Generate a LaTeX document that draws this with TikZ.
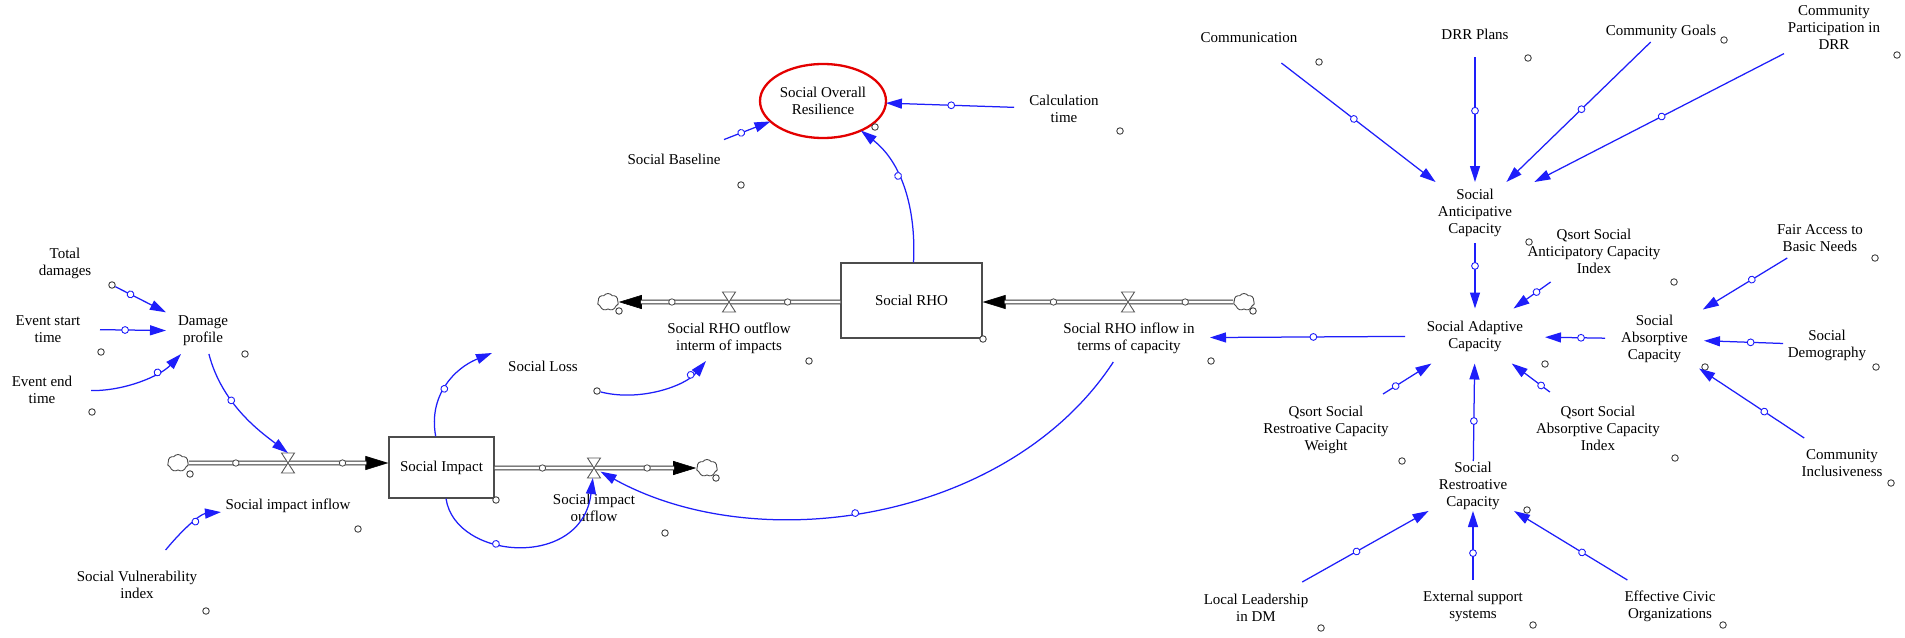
\documentclass[tikz,border=0pt]{standalone}
\usepackage{fontspec}
\setmainfont{Liberation Serif}
\usetikzlibrary{arrows.meta,shapes.geometric,shapes.symbols,decorations.markings,calc}
\definecolor{linkblue}{RGB}{30,30,250}
\definecolor{ringred}{RGB}{228,0,0}
\newcommand\varfnt{\fontsize{15pt}{17pt}\selectfont}

\begin{document}
\begin{tikzpicture}[x=1pt,y=-1pt,
  var/.style={align=center, font=\varfnt, inner sep=0pt, outer sep=0pt},
  sz/.style 2 args={minimum width=#1pt, minimum height=#2pt},
  stock/.style={draw=black!70, line width=1.3pt, fill=white, font=\varfnt, inner sep=0pt},
  handle/.style={circle, draw=black!75, fill=white, line width=0.9pt, inner sep=0pt, minimum size=6.5pt},
  puff/.style={cloud, cloud puffs=7, cloud puff arc=110, aspect=1.25, draw=black!70, fill=white, line width=0.9pt, minimum width=21pt, minimum height=17pt, inner sep=0pt},
  valvebox/.style={minimum width=13pt, minimum height=20pt, inner sep=0pt, outer sep=0pt},
  valveline/.style={draw=black!65, fill=white, line width=0.9pt, line join=miter},
  pipe/.style={draw=black!80, line width=0.95pt, double=white, double distance=2.8pt},
  flowhead/.style={draw=black, line width=0.6pt, -{Triangle[length=23pt,width=14pt]}},
  pipeknob/.style={draw=black!70, fill=white, line width=0.8pt},
  link/.style={draw=linkblue, line width=1.25pt, -{Triangle[length=16pt,width=10pt]}},
  knob/.style={postaction={decorate, decoration={markings, mark=at position #1 with {\draw[linkblue, fill=white, line width=0.9pt] (0,0) circle (3.4pt);}}}}
]
\fill[white] (0,0) rectangle (1905,637);
\useasboundingbox (0,0) rectangle (1905,637);

% ---------- damage inputs ----------
\node[var, sz={94}{44}] (td) at (65,263) {Total\\damages};
\node[var, sz={104}{40}] (es) at (48,329) {Event start\\time};
\node[var, sz={98}{40}] (ee) at (42,390) {Event end\\time};
\node[var, sz={74}{46}] (dp) at (203,331) {Damage\\profile};
\node[handle] (hTD) at (112,285) {};
\node[handle] (hES) at (101,352) {};
\node[handle] (hEE) at (92,412) {};
\node[handle] (hDP) at (245,354) {};

% ---------- Social Impact stock and its flows ----------
\node[stock, minimum width=105pt, minimum height=61pt] (siBox) at (441.5,467.5) {Social Impact};
\node[handle] (hSI) at (496,500) {};
\node[puff] (cl1) at (178,463) {};
\node[handle] (hC1) at (190,474) {};
\node[puff] (cl2) at (707,468) {};
\node[handle] (hC2) at (716,478) {};
\node[valvebox] (vIn) at (288,463) {};
\node[valvebox] (vOut) at (594,468) {};
\node[var, sz={134}{30}] (sii) at (288,506) {Social impact inflow};
\node[var] (sio) at (594,508) {Social impact\\outflow};
\node[handle] (hSII) at (358,529) {};
\node[handle] (hSIO) at (665,533) {};
\node[var, sz={130}{70}] (svi) at (137,585) {Social Vulnerability\\index};
\node[handle] (hSVI) at (206,611) {};
\node[var, sz={102}{26}] (sl) at (543,366) {Social Loss};
\node[handle] (hSL) at (597,391) {};

% ---------- Social RHO stock and its flows ----------
\node[stock, minimum width=141pt, minimum height=75pt] (rho) at (911.5,300.5) {Social RHO};
\node[handle] (hRHO) at (983,339) {};
\node[puff] (cl3) at (608,302) {};
\node[handle] (hC3) at (619,311) {};
\node[puff] (cl4) at (1244,302) {};
\node[handle] (hC4) at (1253,311) {};
\node[valvebox] (vRo) at (729,302) {};
\node[valvebox] (vRi) at (1128,302) {};
\node[var, sz={160}{46}] (rhoout) at (729,338) {Social RHO outflow\\interm of impacts};
\node[var, sz={162}{48}] (rhoin) at (1129,338) {Social RHO inflow in\\terms of capacity};
\node[handle] (hRO) at (809,361) {};
\node[handle] (hRI) at (1211,361) {};

% ---------- overall resilience ----------
\node[var, ellipse, draw=ringred, line width=2.3pt, minimum width=126pt, minimum height=74pt] (sor) at (823,101) {Social Overall\\Resilience};
\node[handle] (hSOR) at (875,127) {};
\node[var, sz={100}{40}] (calc) at (1064,109) {Calculation\\time};
\node[handle] (hCalc) at (1120,131) {};
\node[var, sz={100}{52}] (sb) at (674,159) {Social Baseline};
\node[handle] (hSB) at (741,185) {};

% ---------- capacity cluster ----------
\node[var, sz={100}{50}] (comm) at (1249,38) {Communication};
\node[var, sz={80}{46}] (drr) at (1475,34) {DRR Plans};
\node[var, sz={110}{20}] (cg) at (1661,32) {Community Goals};
\node[var, sz={100}{56}] (cpd) at (1834,28) {Community\\Participation in\\DRR};
\node[var, sz={120}{61}] (sac) at (1475,212.5) {Social\\Anticipative\\Capacity};
\node[var, sz={140}{62}] (qsa) at (1594,251) {Qsort Social\\Anticipatory Capacity\\Index};
\node[var, sz={140}{55}] (sadapt) at (1475,336) {Social Adaptive\\Capacity};
\node[var, sz={99}{59}] (sabs) at (1654.5,339) {Social\\Absorptive\\Capacity};
\node[var, sz={90}{40}] (fa) at (1820,238) {Fair Access to\\Basic Needs};
\node[var, sz={88}{40}] (demo) at (1827,345) {Social\\Demography};
\node[var, sz={90}{50}] (incl) at (1842,463) {Community\\Inclusiveness};
\node[var, sz={130}{72}] (qsr) at (1326,430) {Qsort Social\\Restroative Capacity\\Weight};
\node[var, sz={130}{72}] (qsabs) at (1598,428) {Qsort Social\\Absorptive Capacity\\Index};
\node[var, sz={110}{50}] (srest) at (1473,486) {Social\\Restroative\\Capacity};
\node[var, sz={110}{52}] (ll) at (1256,608) {Local Leadership\\in DM};
\node[var, sz={110}{52}] (ext) at (1473,606) {External support\\systems};
\node[var, sz={100}{52}] (eco) at (1670,606) {Effective Civic\\Organizations};

\node[handle] (hComm) at (1319,62) {};
\node[handle] (hDRR) at (1528,58) {};
\node[handle] (hCG) at (1724,40) {};
\node[handle] (hCPD) at (1897,55) {};
\node[handle] (hSAC) at (1529,242) {};
\node[handle] (hQSA) at (1674,282) {};
\node[handle] (hSAd) at (1545,364) {};
\node[handle] (hSAb) at (1705,367) {};
\node[handle] (hFA) at (1875,258) {};
\node[handle] (hDemo) at (1876,367) {};
\node[handle] (hIncl) at (1891,483) {};
\node[handle] (hQSR) at (1402,461) {};
\node[handle] (hQSAb) at (1675,458) {};
\node[handle] (hSR) at (1527,510) {};
\node[handle] (hLL) at (1321,628) {};
\node[handle] (hExt) at (1533,625) {};
\node[handle] (hECO) at (1723,625) {};

% ---------- pipes ----------
\draw[flowhead] (cl1) -- (siBox.west |- cl1);
\draw[pipe, shorten >=22pt] (cl1) -- (siBox.west |- cl1);
\draw[flowhead] (siBox.east |- cl2) -- (cl2);
\draw[pipe, shorten >=22pt] (siBox.east |- cl2) -- (cl2);
\draw[flowhead] (rho.west |- cl3) -- (cl3);
\draw[pipe, shorten >=22pt] (rho.west |- cl3) -- (cl3);
\draw[flowhead] (cl4) -- (rho.east |- cl4);
\draw[pipe, shorten >=22pt] (cl4) -- (rho.east |- cl4);

\foreach \f in {0.275,0.782} \draw[pipeknob] ($(cl1)!\f!(siBox.west |- cl1)$) circle (3.2pt);
\foreach \f in {0.225,0.718} \draw[pipeknob] ($(siBox.east |- cl2)!\f!(cl2)$) circle (3.2pt);
\foreach \f in {0.227,0.725} \draw[pipeknob] ($(rho.west |- cl3)!\f!(cl3)$) circle (3.2pt);
\foreach \f in {0.225,0.729} \draw[pipeknob] ($(cl4)!\f!(rho.east |- cl4)$) circle (3.2pt);

% valves
\foreach \v in {vIn,vOut,vRo,vRi}
  \filldraw[valveline] (\v.north west) -- (\v.north east) -- (\v.south west) -- (\v.south east) -- cycle;

% ---------- causal links ----------
\draw[link, knob=0.3] (hTD) -- (dp);
\draw[link, knob=0.38] (es) -- (dp);
\draw[link, knob=0.7] (ee) .. controls (125,391) and (160,376) .. (dp);
\draw[link, knob=0.4] (dp) .. controls (222,405) and (262,433) .. (vIn.north);
\draw[link, knob=0.6] (svi) .. controls (182,530) and (200,514) .. (sii);
\draw[link, knob=0.45] (siBox) .. controls (428,395) and (455,368) .. (sl.north west);
\draw[link, knob=0.82] (hSL) .. controls (640,402) and (685,386) .. (rhoout.225);
\draw[link, knob=0.35] (siBox) .. controls (455,560) and (582,570) .. (vOut);
\draw[link, knob=0.54] (rhoin) .. controls (1010,520) and (760,560) .. (vOut);
\draw[link, knob=0.6] (rho) .. controls (916,215) and (905,165) .. (sor);
\draw[link, knob=0.49] (calc) -- (sor);
\draw[link, knob=0.37] (sb) -- (sor);

\draw[link, knob=0.47] (comm) -- (sac);
\draw[link, knob=0.43] (drr) -- (sac);
\draw[link, knob=0.48] (cg) -- (sac);
\draw[link, knob=0.49] (cpd) -- (sac);
\draw[link, knob=0.35] (sac) -- (sadapt);
\draw[link, knob=0.38] (qsa) -- (sadapt);
\draw[link, knob=0.47] (sadapt) -- (rhoin);
\draw[link, knob=0.4] (sabs) -- (sadapt);
\draw[link, knob=0.42] (fa) -- (sabs);
\draw[link, knob=0.41] (demo) -- (sabs);
\draw[link, knob=0.38] (incl) -- (sabs);
\draw[link, knob=0.26] (qsr) -- (sadapt);
\draw[link, knob=0.23] (qsabs) -- (sadapt);
\draw[link, knob=0.41] (srest) -- (sadapt);
\draw[link, knob=0.43] (ll) -- (srest);
\draw[link, knob=0.39] (ext) -- (srest);
\draw[link, knob=0.4] (eco) -- (srest);
\end{tikzpicture}
\end{document}
